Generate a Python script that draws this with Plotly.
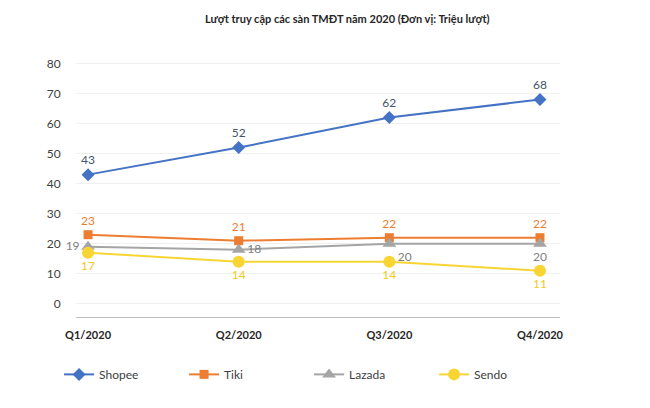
import plotly.graph_objects as go

quarters = ["Q1/2020", "Q2/2020", "Q3/2020", "Q4/2020"]
shopee = [43, 52, 62, 68]
tiki = [23, 21, 22, 22]
lazada = [19, 18, 20, 20]
sendo = [17, 14, 14, 11]
y_ticks = [0, 10, 20, 30, 40, 50, 60, 70, 80]

x = list(range(len(quarters)))
font = "Lato"

fig = go.Figure()

series = [
    ("Shopee", shopee, "#4472C4", "diamond", 10, "#44546A", ["top center"] * 4),
    ("Tiki", tiki, "#ED7D31", "square", 9, "#ED7D31", ["top center"] * 4),
    ("Lazada", lazada, "#A5A5A5", "triangle-up", 12, "#808080",
     ["middle left", "middle right", "bottom right", "bottom center"]),
    ("Sendo", sendo, "#F9D534", "circle", 12, "#F2C925", ["bottom center"] * 4),
]

for name, vals, color, sym, size, tcol, tpos in series:
    fig.add_trace(go.Scatter(
        x=x, y=vals, name=name, mode="lines+markers+text",
        line=dict(color=color, width=2),
        marker=dict(symbol=sym, size=size, color=color),
        text=[str(v) for v in vals], textposition=tpos,
        textfont=dict(family=font, size=12, color=tcol),
        cliponaxis=False,
    ))

fig.update_layout(
    width=650, height=408,
    margin=dict(l=68, r=98, t=54, b=99),
    paper_bgcolor="white", plot_bgcolor="white",
    title=dict(text="<b>Lượt truy cập các sàn TMĐT năm 2020 (Đơn vị: Triệu lượt)</b>",
               x=0.522, xanchor="center", y=0.972, yanchor="middle",
               font=dict(family=font, size=11, color="#262626")),
    showlegend=True,
    legend=dict(orientation="h", x=-0.035, y=-0.225, xanchor="left", yanchor="middle",
                entrywidth=80, entrywidthmode="pixels",
                font=dict(family=font, size=12, color="#404040")),
    font=dict(family=font),
)

fig.update_xaxes(
    tickvals=x, ticktext=["<b>%s</b>" % q for q in quarters],
    range=[-0.08, 3.133], showgrid=False, zeroline=False,
    showline=True, linecolor="#BFBFBF", linewidth=1,
    ticks="outside", ticklen=8, tickcolor="rgba(0,0,0,0)",
    tickfont=dict(family=font, size=11, color="#262626"),
)
fig.update_yaxes(
    tickvals=y_ticks, range=[-4.4, 80.5],
    showgrid=True, gridcolor="#F0F0F0", zeroline=False, showline=False,
    ticks="outside", ticklen=12, tickcolor="rgba(0,0,0,0)",
    tickfont=dict(family=font, size=12, color="#404040"),
)

fig.write_html("out.html")
